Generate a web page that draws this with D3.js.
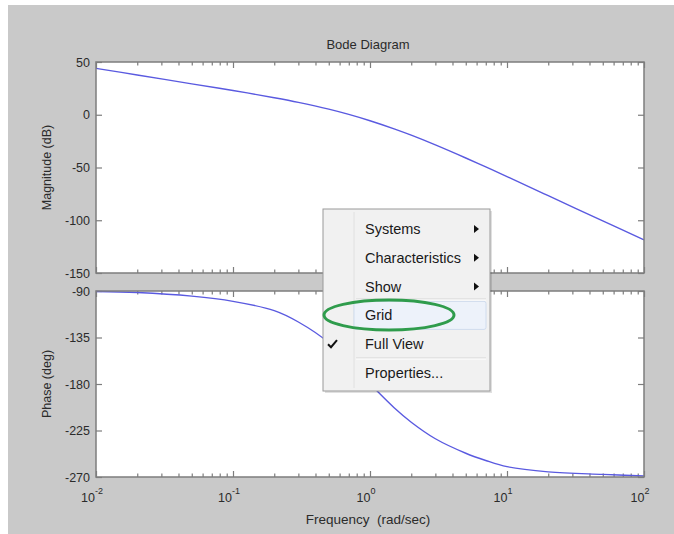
<!DOCTYPE html>
<html>
<head>
<meta charset="utf-8">
<script src="https://cdn.jsdelivr.net/npm/d3@7"></script>
<style>
  html, body { margin: 0; padding: 0; background: #fff; }
  svg { display: block; font-family: "Liberation Sans", Arial, sans-serif; }
</style>
</head>
<body>
<div id="chart"></div>
<script>
// Bode magnitude
const magFreq = [0.01, 0.02, 0.05, 0.1, 0.2, 0.3, 0.5, 0.7, 1, 1.5, 2, 3, 5, 7, 10, 20, 50, 100];
const magDb = [44, 37.7, 29.3, 23, 16.1, 11.7, 5.3, 0.3, -5.7, -13.4, -19.4, -28.6, -41, -49.5, -58.6, -76.7, -100.6, -118.7];

// Bode phase
const phaseFreq = [0.01, 0.02, 0.05, 0.1, 0.2, 0.3, 0.5, 0.7, 1, 1.5, 2, 3, 5, 7, 10, 20, 50, 100];
const phaseDeg = [-90.5, -91.5, -95, -100, -109, -120, -140, -160, -180, -203, -217, -233, -247, -254, -260, -265, -267.5, -269];

const magTicks = [50, 0, -50, -100, -150];
const phaseTicks = [-90, -135, -180, -225, -270];
const decades = [0.01, 0.1, 1, 10, 100];
const decadeExp = ["-2", "-1", "0", "1", "2"];

const menuItems = ["Systems", "Characteristics", "Show", "Grid", "Full View", "Properties..."];
const menuSub = [true, true, true, false, false, false];
const menuChecked = [false, false, false, false, true, false];

const W = 674, H = 534;
const left = 96, right = 644;
const topPanel = { y0: 62, y1: 273 };
const botPanel = { y0: 291, y1: 477 };

const svg = d3.select("#chart").append("svg")
  .attr("width", W).attr("height", H).attr("viewBox", [0, 0, W, H]);

// figure background
svg.append("rect").attr("x", 8).attr("y", 5).attr("width", W - 8).attr("height", H - 5)
  .attr("fill", "#c9c9c9");

const x = d3.scaleLog().domain([0.01, 100]).range([left, right]);
const minor = [];
decades.slice(0, -1).forEach((d) => { for (let k = 2; k <= 9; k++) minor.push(d * k); });

const yMag = d3.scaleLinear().domain([-150, 50]).range([topPanel.y1, topPanel.y0]);
const yPh = d3.scaleLinear().domain([-270, -90]).range([botPanel.y1, botPanel.y0]);

const axisColor = "#7d7d7d";
const textColor = "#2b2b2b";

function panel(p, y, ticks) {
  const g = svg.append("g");
  g.append("rect").attr("x", left).attr("y", p.y0)
    .attr("width", right - left).attr("height", p.y1 - p.y0).attr("fill", "#fff");

  const styleAxis = (sel) => {
    sel.select(".domain").remove();
    sel.selectAll(".tick line").attr("stroke", axisColor).attr("stroke-width", 1.2);
  };

  // x ticks, top and bottom, inward
  g.append("g").attr("transform", `translate(0,${p.y1})`)
    .call(d3.axisBottom(x).tickValues(decades).tickSize(-6).tickFormat(""))
    .call(styleAxis);
  g.append("g").attr("transform", `translate(0,${p.y1})`)
    .call(d3.axisBottom(x).tickValues(minor).tickSize(-3.5).tickFormat(""))
    .call(styleAxis);
  g.append("g").attr("transform", `translate(0,${p.y0})`)
    .call(d3.axisTop(x).tickValues(decades).tickSize(-6).tickFormat(""))
    .call(styleAxis);
  g.append("g").attr("transform", `translate(0,${p.y0})`)
    .call(d3.axisTop(x).tickValues(minor).tickSize(-3.5).tickFormat(""))
    .call(styleAxis);

  // y ticks, left with labels, right without
  g.append("g").attr("transform", `translate(${left},0)`)
    .call(d3.axisLeft(y).tickValues(ticks).tickSize(-6).tickPadding(6).tickFormat((d) => String(d)))
    .call(styleAxis)
    .selectAll("text")
    .attr("fill", textColor).style("font-size", "12.5px")
    .style("font-family", "'Liberation Sans', Arial, sans-serif");
  g.append("g").attr("transform", `translate(${right},0)`)
    .call(d3.axisRight(y).tickValues(ticks).tickSize(-6).tickFormat(""))
    .call(styleAxis);

  g.append("rect").attr("x", left).attr("y", p.y0)
    .attr("width", right - left).attr("height", p.y1 - p.y0)
    .attr("fill", "none").attr("stroke", axisColor).attr("stroke-width", 1.5);
  return g;
}

const gMag = panel(topPanel, yMag, magTicks);
const gPh = panel(botPanel, yPh, phaseTicks);

const lineColor = "#5a5ae0";
const magLine = d3.line().x((d) => x(d[0])).y((d) => yMag(d[1])).curve(d3.curveCatmullRom.alpha(0.5));
const phLine = d3.line().x((d) => x(d[0])).y((d) => yPh(d[1])).curve(d3.curveCatmullRom.alpha(0.5));

gMag.insert("path", "rect:last-of-type")
  .datum(magFreq.map((f, i) => [f, magDb[i]]))
  .attr("d", magLine).attr("fill", "none")
  .attr("stroke", lineColor).attr("stroke-width", 1.4);
gPh.insert("path", "rect:last-of-type")
  .datum(phaseFreq.map((f, i) => [f, phaseDeg[i]]))
  .attr("d", phLine).attr("fill", "none")
  .attr("stroke", lineColor).attr("stroke-width", 1.4);

// x tick labels 10^n
const xl = svg.append("g").attr("fill", textColor);
decades.forEach((d, i) => {
  const t = xl.append("text").attr("x", x(d) - 4).attr("y", 502)
    .attr("text-anchor", "middle").style("font-size", "12.5px");
  t.append("tspan").text("10");
  t.append("tspan").attr("dy", -8).style("font-size", "9px").text(decadeExp[i]);
});

// titles
svg.append("text").attr("x", 368).attr("y", 49).attr("text-anchor", "middle")
  .attr("fill", textColor).style("font-size", "13px").text("Bode Diagram");
svg.append("text").attr("x", 368).attr("y", 524).attr("text-anchor", "middle")
  .attr("fill", textColor).style("font-size", "13.5px").attr("xml:space", "preserve")
  .text("Frequency  (rad/sec)");
svg.append("text").attr("transform", `translate(51,${(topPanel.y0 + topPanel.y1) / 2}) rotate(-90)`)
  .attr("text-anchor", "middle").attr("fill", textColor).style("font-size", "12.5px")
  .text("Magnitude (dB)");
svg.append("text").attr("transform", `translate(51,${(botPanel.y0 + botPanel.y1) / 2}) rotate(-90)`)
  .attr("text-anchor", "middle").attr("fill", textColor).style("font-size", "12.5px")
  .text("Phase (deg)");

// context menu
const menu = { x: 323, y: 209, w: 167, h: 182 };
const mg = svg.append("g");
mg.append("rect").attr("x", menu.x + 2).attr("y", menu.y + 2)
  .attr("width", menu.w).attr("height", menu.h).attr("fill", "#000").attr("opacity", 0.12);
mg.append("rect").attr("x", menu.x).attr("y", menu.y)
  .attr("width", menu.w).attr("height", menu.h)
  .attr("fill", "#f1f1f1").attr("stroke", "#9a9a9a").attr("stroke-width", 1);
mg.append("line").attr("x1", 354).attr("x2", 354).attr("y1", menu.y + 3).attr("y2", menu.y + menu.h - 3)
  .attr("stroke", "#e0e0e0");

const itemY = d3.scalePoint().domain(menuItems).range([229, 373]);

// highlighted Grid row
mg.append("rect").attr("x", 354).attr("y", itemY("Grid") - 14).attr("width", 132).attr("height", 28)
  .attr("rx", 2).attr("fill", "#edf2fa").attr("stroke", "#cfdcee");

// separators
[299, 358].forEach((yy) => {
  mg.append("line").attr("x1", 356).attr("x2", 486).attr("y1", yy).attr("y2", yy).attr("stroke", "#d4d4d4");
  mg.append("line").attr("x1", 356).attr("x2", 486).attr("y1", yy + 1).attr("y2", yy + 1).attr("stroke", "#fff");
});

menuItems.forEach((name, i) => {
  const yy = itemY(name);
  mg.append("text").attr("x", 365).attr("y", yy + 5)
    .attr("fill", "#1a1a1a").style("font-size", "14.5px").text(name);
  if (menuSub[i]) {
    mg.append("path").attr("d", `M${474},${yy - 4}L${479},${yy}L${474},${yy + 4}Z`).attr("fill", "#111");
  }
  if (menuChecked[i]) {
    mg.append("path").attr("d", `M${328},${yy}L${331},${yy + 3}L${337},${yy - 4}`)
      .attr("fill", "none").attr("stroke", "#111").attr("stroke-width", 2);
  }
});

// green highlight ellipse
svg.append("ellipse").attr("cx", 389).attr("cy", 315).attr("rx", 65).attr("ry", 15)
  .attr("fill", "none").attr("stroke", "#2f9c4c").attr("stroke-width", 3);
</script>
</body>
</html>
